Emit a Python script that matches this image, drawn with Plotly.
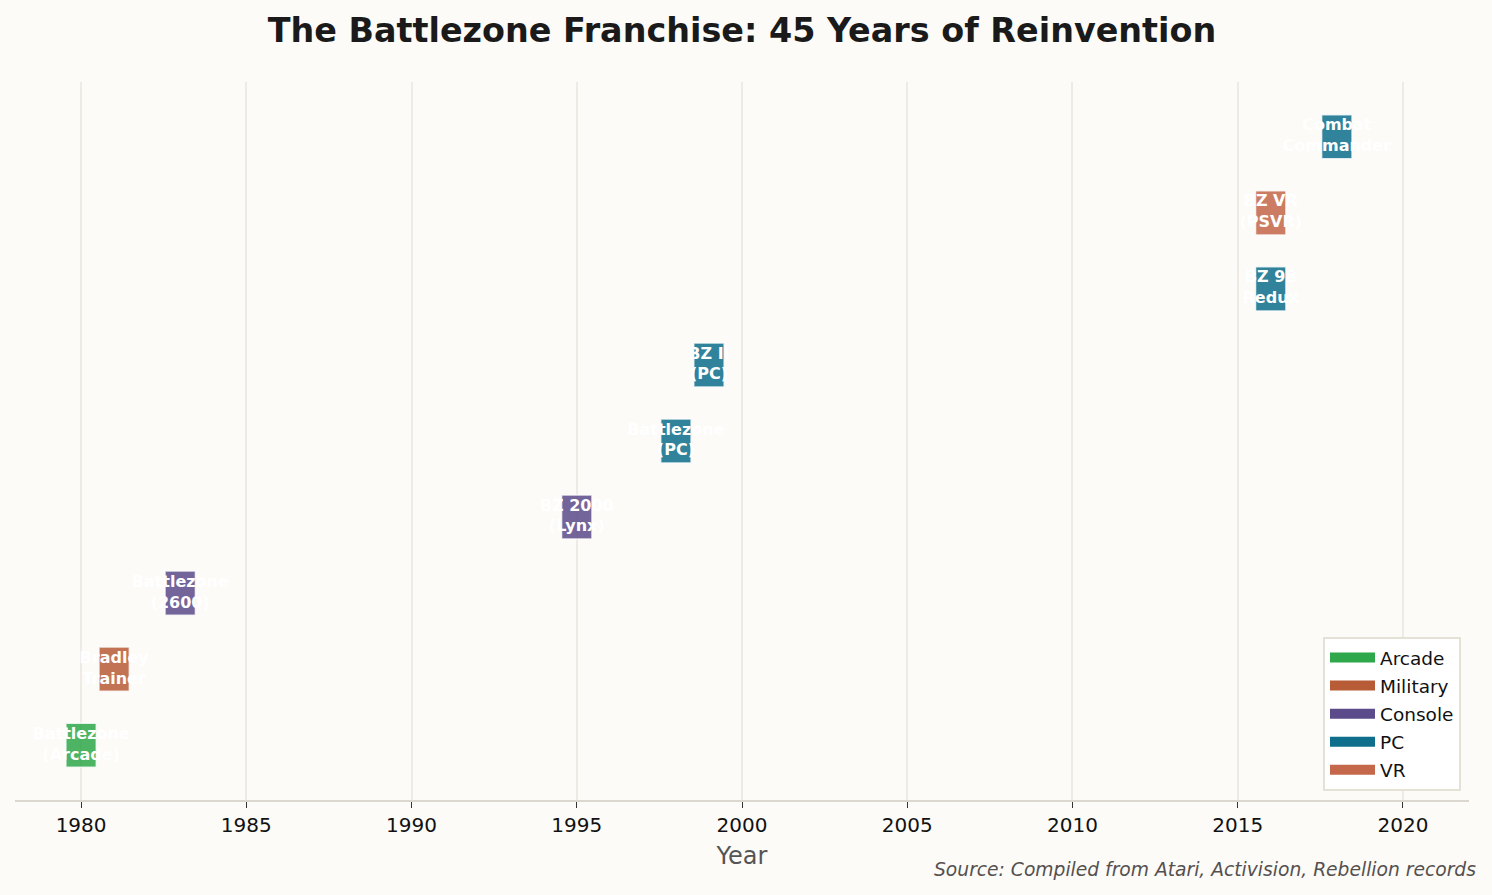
import plotly.graph_objects as go

titles = ["Battlezone<br>(Arcade)", "Bradley<br>Trainer", "Battlezone<br>(2600)", "BZ 2000<br>(Lynx)",
          "Battlezone<br>(PC)", "BZ II<br>(PC)", "BZ 98<br>Redux", "BZ VR<br>(PSVR)", "Combat<br>Commander"]
years = [1980, 1981, 1983, 1995, 1998, 1999, 2016, 2016, 2018]
categories = ["Arcade", "Military", "Console", "Console", "PC", "PC", "PC", "VR", "PC"]
category_order = ["Arcade", "Military", "Console", "PC", "VR"]
colors = {"Arcade": "#2EA84A", "Military": "#B85C38", "Console": "#5C4B8A", "PC": "#0E6E8C", "VR": "#C4674A"}
tick_years = [1980, 1985, 1990, 1995, 2000, 2005, 2010, 2015, 2020]

bar_span = 0.92
rows = list(range(len(titles)))

fig = go.Figure()
for cat in category_order:
    idx = [i for i, c in enumerate(categories) if c == cat]
    fig.add_trace(go.Bar(
        orientation="h",
        y=[rows[i] for i in idx],
        x=[bar_span] * len(idx),
        base=[years[i] - bar_span / 2 for i in idx],
        width=0.58,
        name=cat,
        showlegend=False,
        marker=dict(color=colors[cat], opacity=0.85,
                    line=dict(color="rgba(255,255,255,0.8)", width=1.5)),
        hoverinfo="skip",
    ))
    # legend entry with a wide rectangular swatch
    fig.add_trace(go.Scatter(
        x=[None], y=[None], mode="lines", name=cat, legendgroup=cat,
        line=dict(color=colors[cat], width=16),
        hoverinfo="skip",
    ))

fig.add_trace(go.Scatter(
    x=years, y=rows, mode="text", text=titles,
    textfont=dict(family="DejaVu Sans", size=16, color="white", weight="bold"),
    textposition="middle center", showlegend=False, hoverinfo="skip",
))

fig.update_layout(
    width=1492, height=895,
    paper_bgcolor="#FCFBF7", plot_bgcolor="#FCFBF7",
    margin=dict(l=15, r=23, t=82, b=95),
    barmode="overlay",
    font=dict(family="DejaVu Sans", size=18, color="#111111"),
    title=dict(text="<b>The Battlezone Franchise: 45 Years of Reinvention</b>",
               xref="paper", x=0.5, xanchor="center", y=0.9665, yanchor="middle",
               font=dict(size=33.4, color="#1a1a1a")),
    legend=dict(x=0.9945, y=0.0125, xanchor="right", yanchor="bottom",
                bgcolor="white", bordercolor="#E6E1D6", borderwidth=2,
                font=dict(size=18.5, color="#111111"), traceorder="grouped",
                tracegroupgap=1, itemwidth=45),
    showlegend=True,
)
fig.update_xaxes(range=[1978, 2022], tickvals=tick_years, ticks="outside", ticklen=6,
                 tickcolor="#333", showgrid=True, gridcolor="#EEEAE4", gridwidth=1.5,
                 showline=True, linecolor="#DDD8CF", linewidth=1.5, zeroline=False,
                 ticklabelstandoff=0,
                 title=dict(text="Year", font=dict(size=24, color="#555555"), standoff=11),
                 tickfont=dict(size=20, color="#111111"))
fig.update_yaxes(range=[-0.72, 8.72], showticklabels=False, showgrid=False,
                 zeroline=False, showline=False, ticks="")

fig.add_annotation(text="<i>Source: Compiled from Atari, Activision, Rebellion records</i>",
                   xref="paper", yref="paper", x=1.006, y=-0.097, xanchor="right", yanchor="middle",
                   showarrow=False, font=dict(size=18.7, color="#555050"))

fig.write_html("out.html", config={"displayModeBar": False},
               post_script="document.body.style.margin='0';")
